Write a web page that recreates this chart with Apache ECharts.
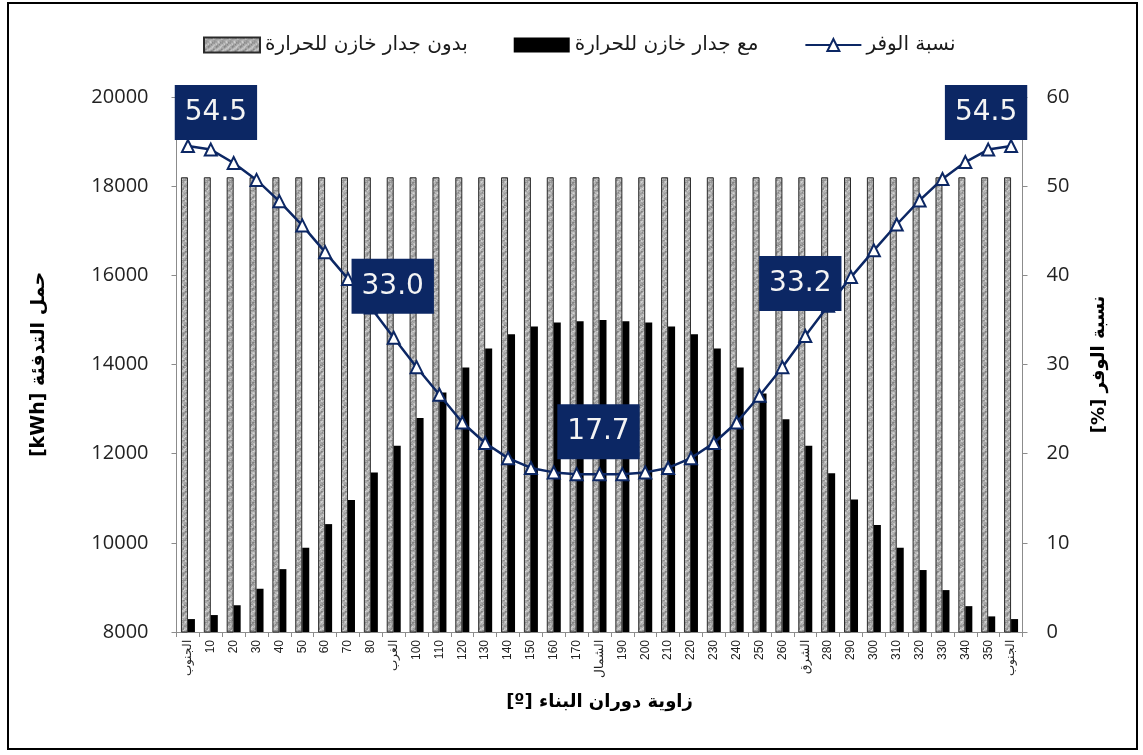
<!DOCTYPE html>
<html>
<head>
<meta charset="utf-8">
<script src="https://cdn.jsdelivr.net/npm/echarts@6/dist/echarts.min.js"></script>
<style>
  html, body { margin: 0; padding: 0; background: #ffffff; }
  #chart { width: 1143px; height: 755px; }
</style>
</head>
<body>
<div id="chart"></div>
<script>
// Building rotation angle (degrees); the four cardinal directions are named
const categories = [
  'الجنوب', '10', '20', '30', '40', '50', '60', '70', '80',
  'الغرب', '100', '110', '120', '130', '140', '150', '160', '170',
  'الشمال', '190', '200', '210', '220', '230', '240', '250', '260',
  'الشرق', '280', '290', '300', '310', '320', '330', '340', '350',
  'الجنوب'
];

// Heating load without thermal storage wall [kWh]
const loadWithoutWall = [
  18200, 18200, 18200, 18200, 18200, 18200, 18200, 18200, 18200,
  18200, 18200, 18200, 18200, 18200, 18200, 18200, 18200, 18200,
  18200, 18200, 18200, 18200, 18200, 18200, 18200, 18200, 18200,
  18200, 18200, 18200, 18200, 18200, 18200, 18200, 18200, 18200,
  18200
];

// Heating load with thermal storage wall [kWh]
const loadWithWall = [
  8290, 8380, 8600, 8970, 9410, 9890, 10420, 10960, 11580,
  12180, 12800, 13370, 13930, 14360, 14680, 14850, 14940, 14970,
  15000, 14970, 14940, 14850, 14680, 14360, 13930, 13350, 12770,
  12180, 11560, 10970, 10400, 9890, 9390, 8940, 8580, 8350,
  8290
];

// Savings ratio [%]
const savingsRatio = [
  54.5, 54.1, 52.6, 50.7, 48.3, 45.6, 42.6, 39.6, 36.4,
  33.0, 29.7, 26.6, 23.5, 21.2, 19.5, 18.4, 17.9, 17.7,
  17.7, 17.7, 17.9, 18.4, 19.5, 21.2, 23.5, 26.5, 29.7,
  33.2, 36.6, 39.8, 42.8, 45.7, 48.4, 50.8, 52.7, 54.1,
  54.5
];

const leftTicks = [8000, 20000, 2000];   // min, max, step
const rightTicks = [0, 60, 10];

const seriesNames = ['بدون جدار خازن للحرارة', 'مع جدار خازن للحرارة', 'نسبة الوفر'];

// Which points of the savings line carry a value box, and where the box sits
const labelPlacement = {
  0:  { distance: -1, offset: [28, 0] },
  9:  { distance: 17, offset: [-1, 0] },
  18: { distance: 8,  offset: [-1, 0] },
  27: { distance: 18, offset: [-5, 0] },
  36: { distance: -1, offset: [-25, 0] }
};

const NAVY = '#0c2764';

// Mottled grey fill for the bars without the storage wall (deterministic texture)
function makeGreyTexture() {
  const c = document.createElement('canvas');
  c.width = 8; c.height = 40;
  const ctx = c.getContext('2d');
  for (let y = 0; y < c.height; y++) {
    for (let x = 0; x < c.width; x++) {
      const h = Math.sin(x * 12.9898 + y * 78.233) * 43758.5453;
      const f = h - Math.floor(h);
      const smooth = 0.5 + 0.5 * Math.sin(y * 0.9 + x * 0.7);
      const v = Math.round(125 + 95 * (0.55 * f + 0.45 * smooth));
      ctx.fillStyle = 'rgb(' + v + ',' + v + ',' + v + ')';
      ctx.fillRect(x, y, 1, 1);
    }
  }
  return c;
}

const chart = echarts.init(document.getElementById('chart'), null, { renderer: 'canvas' });

const lineData = savingsRatio.map(function (v, i) {
  const p = labelPlacement[i];
  if (!p) return v;
  return {
    value: v,
    label: {
      show: true,
      position: 'top',
      distance: p.distance,
      offset: p.offset
    }
  };
});

const axisLineGrey = '#8c8c8c';
const plainNumber = function (v) { return String(v); };

chart.setOption({
  animation: false,
  backgroundColor: '#ffffff',
  graphic: [{
    type: 'rect',
    shape: { x: 8, y: 3, width: 1129, height: 746 },
    style: { fill: 'none', stroke: '#000000', lineWidth: 2 },
    z: 100
  }],
  legend: {
    data: [
      { name: seriesNames[0], icon: 'rect' },
      { name: seriesNames[1], icon: 'rect' },
      { name: seriesNames[2] }
    ],
    left: 198,
    top: 30,
    itemWidth: 56,
    itemHeight: 15,
    itemGap: 46,
    textStyle: { fontFamily: 'DejaVu Sans', fontSize: 20, color: '#1a1a1a' }
  },
  grid: { left: 176.5, right: 120.5, top: 97, bottom: 123 },
  xAxis: {
    type: 'category',
    data: categories,
    name: '[º] زاوية دوران البناء',
    nameLocation: 'middle',
    nameGap: 61,
    nameTextStyle: { fontFamily: 'DejaVu Sans', fontSize: 18, fontWeight: 'bold', color: '#000' },
    axisLine: { lineStyle: { color: axisLineGrey, width: 1 } },
    axisTick: { show: true, length: 5, lineStyle: { color: axisLineGrey } },
    axisLabel: {
      interval: 0, rotate: 90, margin: 8,
      fontFamily: 'Liberation Sans', fontSize: 12, color: '#222'
    }
  },
  yAxis: [{
    type: 'value',
    min: leftTicks[0], max: leftTicks[1], interval: leftTicks[2],
    name: '[kWh] حمل التدفئة',
    nameLocation: 'middle',
    nameRotate: 90,
    nameGap: 128,
    nameTextStyle: { fontFamily: 'DejaVu Sans', fontSize: 19, fontWeight: 'bold', color: '#000' },
    axisLine: { show: true, lineStyle: { color: axisLineGrey } },
    axisTick: { show: true, length: 5, lineStyle: { color: axisLineGrey } },
    splitLine: { show: false },
    axisLabel: { margin: 28, formatter: plainNumber, fontFamily: 'Open Sans', fontSize: 20, color: '#222' }
  }, {
    type: 'value',
    position: 'right',
    min: rightTicks[0], max: rightTicks[1], interval: rightTicks[2],
    name: '[%] نسبة الوفر',
    nameLocation: 'middle',
    nameRotate: 90,
    nameGap: 68,
    nameTextStyle: { fontFamily: 'DejaVu Sans', fontSize: 18, fontWeight: 'bold', color: '#000' },
    axisLine: { show: true, lineStyle: { color: axisLineGrey } },
    axisTick: { show: true, length: 5, lineStyle: { color: axisLineGrey } },
    splitLine: { show: false },
    axisLabel: { margin: 24, formatter: plainNumber, fontFamily: 'Open Sans', fontSize: 20, color: '#222' }
  }],
  series: [{
    name: seriesNames[0],
    type: 'bar',
    yAxisIndex: 0,
    data: loadWithoutWall,
    barWidth: 7,
    barGap: '0%',
    itemStyle: {
      color: { image: makeGreyTexture(), repeat: 'repeat' },
      borderColor: '#2a2a2a',
      borderWidth: 1
    }
  }, {
    name: seriesNames[1],
    type: 'bar',
    yAxisIndex: 0,
    data: loadWithWall,
    barWidth: 7,
    itemStyle: { color: '#000000' }
  }, {
    name: seriesNames[2],
    type: 'line',
    yAxisIndex: 1,
    data: lineData,
    symbol: 'triangle',
    symbolSize: 12,
    lineStyle: { color: NAVY, width: 2.5 },
    itemStyle: { color: '#ffffff', borderColor: NAVY, borderWidth: 2 },
    label: {
      show: false,
      formatter: function (p) { return p.value.toFixed(1); },
      backgroundColor: NAVY,
      color: '#f4f4f4',
      fontFamily: 'DejaVu Sans',
      fontSize: 28,
      padding: [14, 10, 13, 10]
    },
    z: 5
  }]
});
</script>
</body>
</html>
